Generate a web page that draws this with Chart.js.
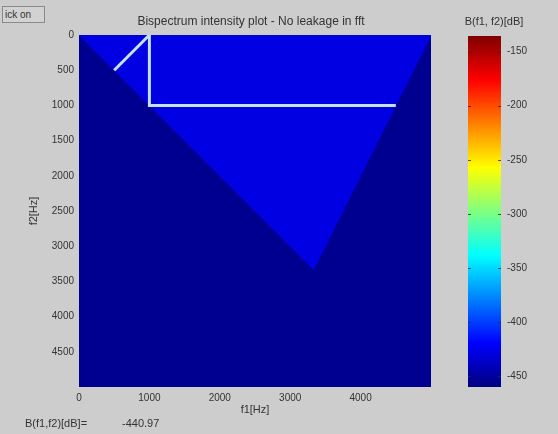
<!DOCTYPE html>
<html>
<head>
<meta charset="utf-8">
<script src="https://cdn.jsdelivr.net/npm/chart.js@4.4.1/dist/chart.umd.min.js"></script>
<style>
  html, body { margin: 0; padding: 0; background: #cdcdcd; width: 558px; height: 434px; overflow: hidden; }
  #wrap { position: relative; width: 558px; height: 434px; font-family: "Liberation Sans", Arial, sans-serif; color: #333; }
  canvas { position: absolute; top: 0; }
  #main { left: 0; }
  #cbar { left: 440px; }
  .btn { position: absolute; left: 2px; top: 6px; width: 43px; height: 17px; box-sizing: border-box;
         border: 1px solid #8a8a8a; background: #d2d2d2; font-size: 10px; line-height: 15px; padding-left: 2px; overflow: hidden; }
  .txt { position: absolute; font-size: 11px; white-space: nowrap; }
</style>
</head>
<body>
<div id="wrap">
  <canvas id="main" width="558" height="434"></canvas>
  <canvas id="cbar" width="118" height="434"></canvas>
  <div class="btn">ick on</div>
  <div class="txt" id="title" style="left:251px; top:14px; font-size:12px; transform:translateX(-50%);"></div>
  <div class="txt" id="cbTitle" style="left:494px; top:15px; transform:translateX(-50%);"></div>
  <div class="txt" id="readLabel" style="left:25px; top:417px;"></div>
  <div class="txt" id="readValue" style="left:122px; top:417px;"></div>
</div>
<script>
// ---- data -------------------------------------------------------------
const titleText = 'Bispectrum intensity plot - No leakage in fft';
const f1Ticks = [0, 1000, 2000, 3000, 4000];                 // Hz
const f2Ticks = [0, 500, 1000, 1500, 2000, 2500, 3000, 3500, 4000, 4500]; // Hz
const freqMax = 5000;                                         // Hz (fs / 2)
const dbTicks = [-450, -400, -350, -300, -250, -200, -150];   // colour bar ticks
const dbRange = [-460.2, -135.5];                             // colour limits, dB
const planeLevel = -455;                                      // dB outside the principal domain
const domainLevel = -429;                                     // dB inside the principal domain
const domainF1 = [0, 5000, 3333, 0];                          // principal domain outline
const domainF2 = [0, 0, 3333, 0];
const ridgeF1 = [500, 1000, 1000, 4500];                      // bispectral ridges
const ridgeF2 = [500, 0, 1000, 1000];
const readoutValue = -440.97;                                 // dB at cursor

// ---- jet colour map ---------------------------------------------------
const jetStops = [
  [0.000, [0, 0, 128]],
  [0.125, [0, 0, 255]],
  [0.375, [0, 255, 255]],
  [0.625, [255, 255, 0]],
  [0.875, [255, 0, 0]],
  [1.000, [128, 0, 0]]
];
function jet(db) {
  const t = Math.min(1, Math.max(0, (db - dbRange[0]) / (dbRange[1] - dbRange[0])));
  for (let i = 1; i < jetStops.length; i++) {
    const [t1, c1] = jetStops[i];
    const [t0, c0] = jetStops[i - 1];
    if (t <= t1) {
      const u = (t - t0) / (t1 - t0);
      const c = c0.map((v, k) => Math.round(v + (c1[k] - v) * u));
      return `rgb(${c[0]},${c[1]},${c[2]})`;
    }
  }
  return 'rgb(128,0,0)';
}

document.getElementById('title').textContent = titleText;
document.getElementById('cbTitle').textContent = 'B(f1, f2)[dB]';
document.getElementById('readLabel').textContent = 'B(f1,f2)[dB]=';
document.getElementById('readValue').textContent = readoutValue.toFixed(2);

const tickFont = { family: '"Liberation Sans", Arial, sans-serif', size: 10 };
const labelFont = { family: '"Liberation Sans", Arial, sans-serif', size: 11 };
const inkColor = '#333';
const pts = (xs, ys) => xs.map((x, i) => ({ x: x, y: ys[i] }));
const plain = v => String(v);

// ---- bispectrum intensity map ----------------------------------------
new Chart(document.getElementById('main'), {
  type: 'scatter',
  data: {
    datasets: [
      {
        label: 'plane',
        order: 3,
        data: pts([0, freqMax, freqMax, 0, 0], [0, 0, freqMax, freqMax, 0]),
        showLine: true, fill: 'shape',
        backgroundColor: jet(planeLevel), borderColor: jet(planeLevel), borderWidth: 0,
        pointRadius: 0
      },
      {
        label: 'principal domain',
        order: 2,
        data: pts(domainF1, domainF2),
        showLine: true, fill: 'shape',
        backgroundColor: jet(domainLevel), borderColor: jet(domainLevel), borderWidth: 1,
        pointRadius: 0
      },
      {
        label: 'ridges',
        order: 1,
        data: pts(ridgeF1, ridgeF2),
        showLine: true, fill: false,
        borderColor: 'rgb(196,226,236)', borderWidth: 3,
        pointRadius: 0
      }
    ]
  },
  options: {
    responsive: false,
    animation: false,
    events: [],
    layout: { padding: { left: 0, top: 35, right: 127, bottom: 0 } },
    plugins: { legend: { display: false }, tooltip: { enabled: false }, title: { display: false } },
    scales: {
      x: {
        type: 'linear', position: 'bottom', min: 0, max: freqMax,
        afterBuildTicks: s => { s.ticks = f1Ticks.map(v => ({ value: v })); },
        afterFit: s => { s.height = 47; },
        grid: { display: false, drawTicks: false },
        border: { display: false },
        ticks: { font: tickFont, color: inkColor, padding: 5, maxRotation: 0, autoSkip: false, callback: plain },
        title: { display: true, text: 'f1[Hz]', font: labelFont, color: inkColor, padding: { top: 0, bottom: 17 } }
      },
      y: {
        type: 'linear', position: 'left', reverse: true, min: 0, max: freqMax,
        afterBuildTicks: s => { s.ticks = f2Ticks.map(v => ({ value: v })); },
        afterFit: s => { s.width = 79; },
        grid: { display: false, drawTicks: false },
        border: { display: false },
        ticks: { font: tickFont, color: inkColor, padding: 5, autoSkip: false, callback: plain },
        title: { display: true, text: 'f2[Hz]', font: labelFont, color: inkColor, padding: { top: 27, bottom: 0 } }
      }
    }
  }
});

// ---- colour bar ------------------------------------------------------
const cbTicksMarks = {
  id: 'cbTickMarks',
  afterDatasetsDraw(chart) {
    const { ctx, chartArea: a, scales: { y } } = chart;
    ctx.save();
    ctx.strokeStyle = 'rgba(40,40,40,0.8)';
    ctx.lineWidth = 1;
    dbTicks.forEach(v => {
      const py = Math.round(y.getPixelForValue(v)) + 0.5;
      ctx.beginPath();
      ctx.moveTo(a.left, py); ctx.lineTo(a.left + 3, py);
      ctx.moveTo(a.right, py); ctx.lineTo(a.right - 3, py);
      ctx.stroke();
    });
    ctx.restore();
  }
};

new Chart(document.getElementById('cbar'), {
  type: 'bar',
  data: {
    labels: ['B'],
    datasets: [{
      data: [[dbRange[0], dbRange[1]]],
      barPercentage: 1, categoryPercentage: 1, borderWidth: 0, borderSkipped: false,
      backgroundColor: ctx => {
        const { chart } = ctx;
        if (!chart.chartArea) return jet(dbRange[0]);
        const y = chart.scales.y;
        const g = chart.ctx.createLinearGradient(0, y.getPixelForValue(dbRange[0]), 0, y.getPixelForValue(dbRange[1]));
        jetStops.forEach(([t, c]) => g.addColorStop(t, `rgb(${c[0]},${c[1]},${c[2]})`));
        return g;
      }
    }]
  },
  options: {
    responsive: false,
    animation: false,
    events: [],
    layout: { padding: { left: 28, top: 36, right: 0, bottom: 47 } },
    plugins: { legend: { display: false }, tooltip: { enabled: false } },
    scales: {
      x: { display: false },
      y: {
        position: 'right', min: dbRange[0], max: dbRange[1],
        afterBuildTicks: s => { s.ticks = dbTicks.map(v => ({ value: v })); },
        afterFit: s => { s.width = 57; },
        grid: { display: false, drawTicks: false },
        border: { display: false },
        ticks: { font: tickFont, color: inkColor, padding: 6, autoSkip: false, callback: plain }
      }
    }
  },
  plugins: [cbTicksMarks]
});
</script>
</body>
</html>
